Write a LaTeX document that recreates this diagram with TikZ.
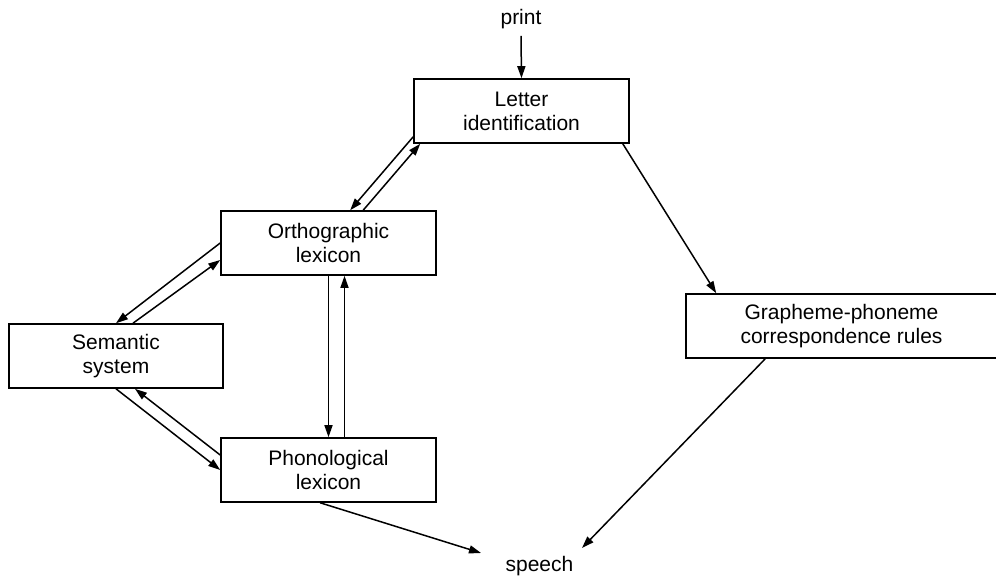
\documentclass[tikz,border=0pt]{standalone}
\usepackage{fontspec}
\setmainfont{Liberation Sans}
\usetikzlibrary{arrows.meta,calc}
\begin{document}
\begin{tikzpicture}[x=1pt,y=-1pt,
  every node/.style={font=\fontsize{21}{24}\selectfont},
  stage/.style={draw,line width=1.6pt,align=center,inner sep=0pt,
    minimum width=215pt,minimum height=64pt},
  word/.style={inner sep=0pt},
  flow/.style={line width=1.5pt,-{Triangle[length=12pt,width=8pt]}}]
\useasboundingbox (0,0) rectangle (996,578);

% processing stages
\node[stage] (lett) at (521.5,111) {Letter\\identification};
\node[stage] (orth) at (328.5,243) {Orthographic\\lexicon};
\node[stage,minimum width=214pt] (sem) at (116,356) {Semantic\\system};
\node[stage] (phon) at (328.5,470) {Phonological\\lexicon};
\node[stage,minimum width=311pt] (gpc) at (841.5,326) {Grapheme-phoneme\\correspondence rules};

% input and output
\node[word] (prnt) at (521,19) {print};
\node[word] (spch) at (539.5,566) {speech};
\coordinate (s1) at (481,553);
\coordinate (s2) at (582,548);

% connections
\draw[flow] ([yshift=-7pt]prnt.south) -- (lett.north);
\draw[flow] ([yshift=7pt]lett.south west) -- ([xshift=130pt]orth.north west);
\draw[flow] ([xshift=143pt]orth.north west) -- ([xshift=7pt]lett.south west);
\draw[flow] (orth.west) -- (sem.north);
\draw[flow] ([xshift=17pt]sem.north) -- ([yshift=-17pt]orth.west);
\draw[flow] (orth.south) -- (phon.north);
\draw[flow] ([xshift=16pt]phon.north) -- ([xshift=16pt]orth.south);
\draw[flow] (sem.south) -- (phon.west);
\draw[flow] ([yshift=15pt]phon.west) -- ([xshift=19pt]sem.south);
\draw[flow] ([xshift=-7pt]lett.south east) -- ([xshift=31pt]gpc.north west);
\draw[flow] ([xshift=80pt]gpc.south west) -- (s2);
\draw[flow] ([xshift=100pt]phon.south west) -- (s1);
\end{tikzpicture}
\end{document}
